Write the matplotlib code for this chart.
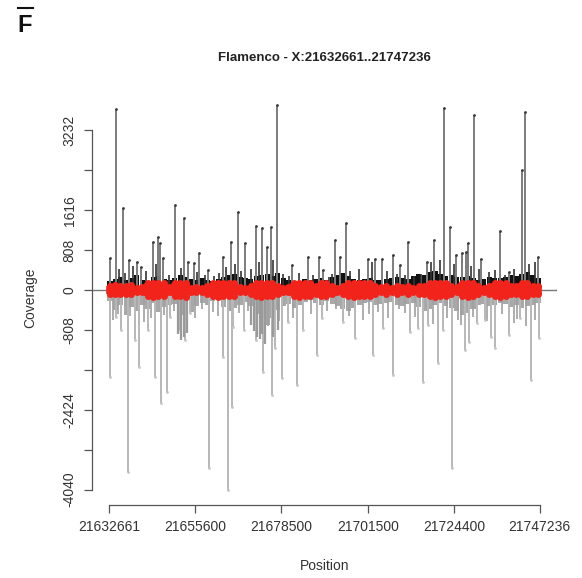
import numpy as np
import matplotlib
matplotlib.use("Agg")
import matplotlib.pyplot as plt
from matplotlib.lines import Line2D

plt.rcParams['font.family'] = ['Liberation Sans', 'DejaVu Sans']

# ------------------------- data -------------------------
START = 21632661
END = 21747236
TITLE = "Flamenco - X:21632661..21747236"

# tall positive spikes (bp offset from START, coverage)
pos_off = [1861, 80, 3641, 5316, 7442, 8426, 11615, 13104, 13556, 14353, 17543, 20015,
           21078, 22593, 24002, 26314, 30381, 32348, 34368, 36149, 38993, 40747, 41917,
           42980, 44575, 48721, 52815, 55818, 56961, 60071, 61400, 62995, 68922, 70703,
           72643, 75407, 77348, 79554, 84445, 86385, 89043, 90638, 92233, 93907, 94811,
           95502, 97097, 99064, 103928, 106320, 109856, 110573, 114108]
pos_val = [3656, 646, 1656, 606, 566, 465, 970, 1070, 950, 646, 1717, 1454,
           566, 545, 747, 404, 667, 970, 1576, 950, 1293, 1252, 869,
           1273, 3737, 505, 667, 667, 404, 1010, 667, 1353, 626, 626,
           626, 707, 505, 970, 566, 1010, 3676, 1273, 707, 747, 768,
           950, 3535, 626, 1192, 364, 2424, 3596, 667]

# smaller positive spikes
pos_small_off = [2500, 4300, 6200, 9800, 12500, 15800, 19000, 23300, 25500, 27800,
                 29200, 31200, 33600, 35200, 37600, 39800, 43600, 46200, 47900, 50600,
                 54200, 58400, 59300, 64200, 66500, 69800, 74000, 76500, 78600, 81000,
                 83000, 85500, 88000, 91700, 96200, 98300, 101000, 102700, 105200, 107800,
                 111800, 113200]
pos_small_val = [420, 350, 480, 380, 520, 300, 440, 360, 300, 280,
                 340, 460, 520, 380, 420, 560, 600, 320, 280, 350,
                 300, 260, 330, 380, 420, 560, 380, 330, 300, 280,
                 320, 560, 600, 520, 480, 420, 360, 400, 300, 420,
                 520, 560]

# deep negative spikes (bp offset from START, coverage)
neg_off = [266, 1861, 3110, 4864, 6911, 8054, 10446, 12227, 13742, 15496, 16214, 18872,
           20201, 21530, 26660, 30381, 31710, 32614, 33039, 35963, 39073, 41013, 43246,
           44123, 46064, 47659, 50051, 51646, 55367, 56696, 62277, 65387, 70092, 72909,
           75407, 80006, 82212, 83382, 84870, 87528, 88698, 91090, 94625, 95768, 98001,
           99941, 101722, 102600, 106320, 109431, 112355, 114374]
neg_val = [-1757, -545, -808, -3676, -1010, -1555, -808, -1757, -2283, -2060, -545, -808,
           -1010, -465, -3596, -1353, -4040, -2363, -747, -808, -1010, -1656, -2121,
           -1172, -1778, -646, -1919, -808, -1313, -566, -646, -970, -1313, -768,
           -1717, -848, -768, -1858, -707, -1475, -808, -3596, -1212, -1050, -667,
           -606, -950, -1172, -909, -566, -1818, -970]

# smaller negative spikes
neg_small_off = [1000, 2300, 5600, 7900, 9300, 11000, 14600, 17300, 22700, 24600,
                 27500, 29000, 34600, 36900, 42300, 45200, 49000, 53600, 58000, 60300,
                 63800, 67600, 69000, 71500, 74200, 77000, 78700, 81300, 86200, 90000,
                 92900, 93700, 96900, 100600, 104500, 107700, 108600, 110800, 113300]
neg_small_val = [-600, -480, -520, -700, -640, -560, -500, -420, -560, -380,
                 -450, -520, -460, -420, -720, -620, -560, -480, -420, -380,
                 -520, -600, -480, -440, -560, -380, -460, -540, -680, -560,
                 -600, -700, -540, -620, -480, -660, -580, -720, -600]

# darker grey blocks under the axis (bp offset, coverage)
mid_off = [18200, 19100, 19900, 20600, 37800, 38500, 39300, 40000, 40600, 41500, 43600, 44800]
mid_val = [-900, -1010, -950, -860, -700, -820, -950, -1000, -900, -1100, -950, -800]

# dense background coverage (kb offset from START)
bg_off = [0.2, 1.6, 3.0, 4.5, 5.9, 7.3, 8.8, 10.2, 11.7, 13.1, 14.6, 16.0, 17.4, 18.9, 20.3, 21.8,
          23.2, 24.7, 26.1, 27.5, 29.0, 30.4, 31.9, 33.3, 34.8, 36.2, 37.6, 39.1, 40.5, 42.0,
          43.4, 44.9, 46.3, 47.7, 49.2, 50.6, 52.1, 53.5, 55.0, 56.4, 57.8, 59.3, 60.7, 62.2,
          63.6, 65.1, 66.5, 67.9, 69.4, 70.8, 72.3, 73.7, 75.2, 76.6, 78.0, 79.5, 80.9, 82.4,
          83.8, 85.3, 86.7, 88.1, 89.6, 91.0, 92.5, 93.9, 95.4, 96.8, 98.2, 99.7, 101.1, 102.6,
          104.0, 105.5, 106.9, 108.3, 109.8, 111.2, 112.7, 114.1]
bg_pos = [180, 220, 260, 200, 240, 300, 210, 190, 260, 280, 230, 200, 250, 300, 260, 220,
          210, 240, 200, 180, 230, 270, 300, 320, 260, 240, 230, 280, 300, 320, 290, 340,
          250, 200, 180, 190, 220, 200, 230, 250, 210, 260, 300, 340, 280, 230, 200, 220,
          240, 210, 200, 230, 250, 260, 240, 220, 280, 320, 300, 360, 380, 320, 290, 300,
          270, 260, 280, 240, 210, 230, 260, 240, 250, 270, 300, 280, 330, 360, 300, 250]
bg_neg = [-220, -400, -300, -500, -350, -420, -300, -380, -260, -450, -340, -300, -280, -500,
          -600, -450, -320, -260, -300, -220, -200, -340, -420, -360, -300, -250, -320, -480,
          -600, -700, -560, -400, -320, -280, -360, -300, -240, -200, -260, -300, -220, -280,
          -320, -380, -420, -360, -300, -260, -240, -300, -280, -260, -240, -300, -320, -280,
          -260, -340, -420, -380, -300, -260, -320, -360, -420, -500, -460, -380, -300, -280,
          -320, -300, -260, -280, -340, -300, -360, -320, -300, -260]

# red point band (upper / lower extent at each background position)
red_top = [90, 95, 85, 90, 95, 50, 55, 140, 145, 135, 140, 55, 140, 135, 145, 50,
           55, 50, 90, 140, 145, 140, 135, 140, 55, 50, 90, 140, 145, 135, 140, 90,
           50, 55, 140, 145, 135, 140, 90, 140, 135, 90, 50, 90, 140, 145, 135, 140,
           140, 90, 55, 90, 50, 90, 55, 90, 50, 90, 90, 140, 145, 135, 140, 90,
           55, 140, 145, 135, 90, 50, 90, 140, 145, 135, 90, 90, 140, 135, 90, 90]
red_bot = [-80, -85, -75, -80, -85, -45, -50, -130, -135, -125, -130, -45, -130, -125, -135, -45,
           -50, -45, -80, -130, -135, -130, -125, -130, -50, -45, -80, -130, -135, -125, -130, -80,
           -45, -50, -130, -135, -125, -130, -80, -130, -125, -80, -45, -80, -130, -135, -125, -130,
           -130, -80, -50, -80, -45, -80, -50, -80, -45, -80, -80, -130, -135, -125, -130, -80,
           -50, -130, -135, -125, -80, -45, -80, -130, -135, -125, -80, -80, -130, -125, -80, -80]

y_ticks = [-4040, -3232, -2424, -1616, -808, 0, 808, 1616, 2424, 3232]
y_labels = ["-4040", "", "-2424", "", "-808", "0", "808", "1616", "", "3232"]
x_ticks = [21632661, 21655600, 21678500, 21701500, 21724400, 21747236]

# ------------------------- plot -------------------------
W, H = 582, 578
fig = plt.figure(figsize=(W / 100, H / 100), dpi=100)
ax = fig.add_axes([92 / W, 1 - 505 / H, (557 - 92) / W, (505 - 90) / H])

pos_x = START + np.array(pos_off)
pos_small_x = START + np.array(pos_small_off)
neg_x = START + np.array(neg_off)
neg_small_x = START + np.array(neg_small_off)
mid_x = START + np.array(mid_off)
bg_x = START + np.array(bg_off) * 1000

# negative strand (grey)
ax.bar(bg_x, bg_neg, width=1350, color="#a8a8a8", linewidth=0, zorder=1)
ax.vlines(neg_small_x, 0, neg_small_val, color="#a0a0a0", lw=1.2, zorder=1)
ax.vlines(neg_x, 0, neg_val, color="#b8b8b8", lw=1.4, zorder=1)
ax.vlines(mid_x, 0, mid_val, color="#9a9a9a", lw=1.6, zorder=1.5)
ax.plot(neg_x, neg_val, "o", ms=2, color="#c4c4c4", mec="none", zorder=1)

# positive strand (black)
ax.bar(bg_x, bg_pos, width=1350, color="#111111", linewidth=0, zorder=2)
ax.vlines(pos_small_x, 0, pos_small_val, color="#333333", lw=1.2, zorder=2)
ax.vlines(pos_x, 0, pos_val, color="#7c7c7c", lw=1.4, zorder=2)
ax.plot(pos_x, pos_val, "o", ms=2, color="#3a3a3a", mec="none", zorder=2)

ax.axhline(0, color="#777777", lw=1.0, zorder=2.5)

# red points along zero
ax.vlines(bg_x, red_bot, red_top, color="#f2231a", lw=5.5, zorder=3)
ax.plot(bg_x, red_top, "o", ms=5, color="#f2231a", mec="none", zorder=3)
ax.plot(bg_x, red_bot, "o", ms=5, color="#f2231a", mec="none", zorder=3)

span = END - START
ax.set_xlim(START - 0.04 * span, END + 0.04 * span)
ymin, ymax = min(neg_val), max(pos_val)
ypad = 0.04 * (ymax - ymin)
ax.set_ylim(ymin - ypad, ymax + ypad)

for s in ["top", "right"]:
    ax.spines[s].set_visible(False)
ax.spines["left"].set_bounds(y_ticks[0], y_ticks[-1])
ax.spines["bottom"].set_bounds(x_ticks[0], x_ticks[-1])
for s in ["left", "bottom"]:
    ax.spines[s].set_color("#555555")
    ax.spines[s].set_linewidth(0.9)

ax.set_yticks(y_ticks)
ax.set_yticklabels(y_labels, rotation=90, va="center")
ax.set_xticks(x_ticks)
ax.set_xticklabels([str(v) for v in x_ticks])
ax.tick_params(direction="out", length=6, width=0.9, color="#555555",
               labelsize=10, labelcolor="#333333", pad=5)

ax.set_xlabel("Position", fontsize=10, color="#333333", labelpad=18)
ax.set_ylabel("Coverage", fontsize=10, color="#333333", labelpad=18)

fig.text((92 + 557) / 2 / W, 1 - 58 / H, TITLE, ha="center", va="center",
         fontsize=9.5, fontweight="bold", color="#222222")
fig.text(17 / W, 1 - 26 / H, "F", ha="left", va="center", fontsize=17,
         fontweight="bold", color="#111111")
fig.add_artist(Line2D([18 / W, 33 / W], [1 - 8 / H, 1 - 8 / H], color="#111111", lw=1.5))

fig.savefig("out.png", dpi=100)
